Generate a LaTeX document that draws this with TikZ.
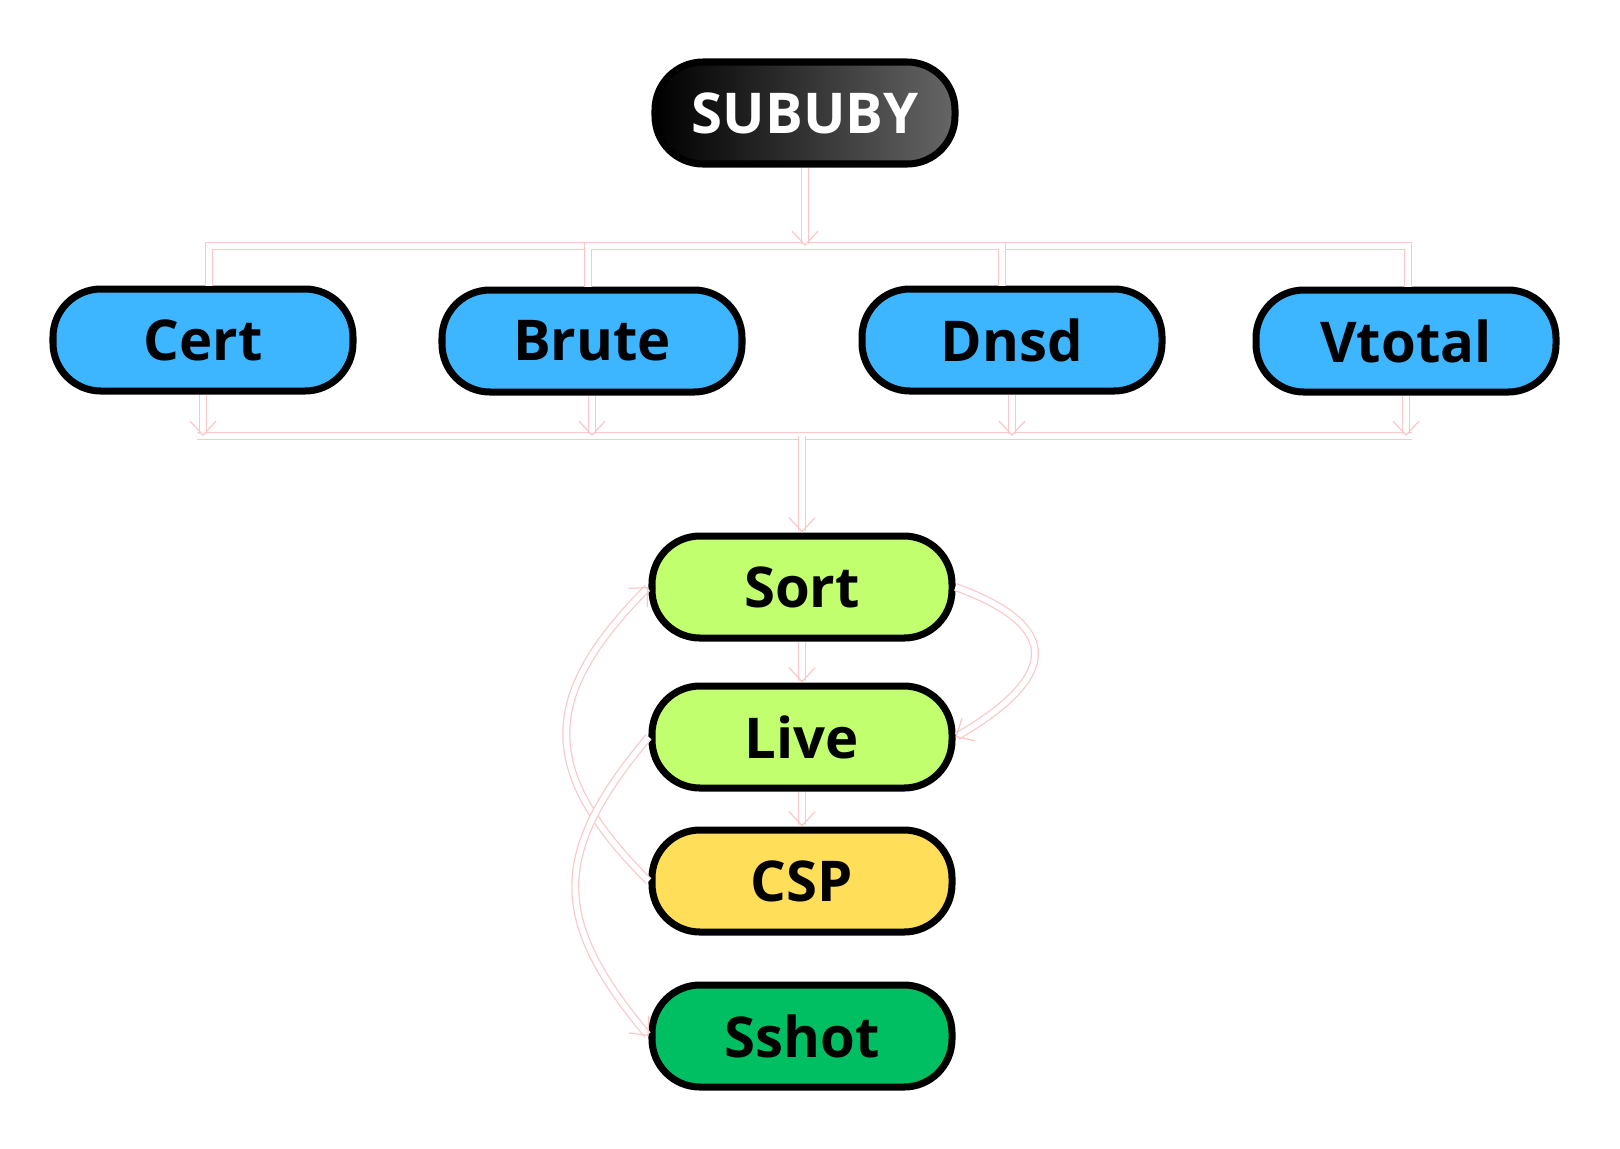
\documentclass[tikz,border=0pt]{standalone}
\usepackage{fontspec}
\setmainfont{Open Sans}
\usepackage{tikz}
\usetikzlibrary{arrows.meta, positioning, calc}

\definecolor{toolblue}{RGB}{61,181,255}
\definecolor{limegreen}{RGB}{194,255,110}
\definecolor{cspyellow}{RGB}{255,222,89}
\definecolor{shotgreen}{RGB}{0,191,99}
\definecolor{linkpink}{RGB}{250,200,200}

\begin{document}
\begin{tikzpicture}[
    box/.style={draw=black, line width=2pt, rounded corners=0.48cm,
      minimum width=3.0cm, minimum height=1.02cm,
      font=\fontsize{16}{19}\selectfont\bfseries},
    link/.style={draw=linkpink, line width=0.35pt, double=white, double distance=1.6pt},
    tip/.style={-{Straight Barb[length=1.4mm, width=2.6mm]}}
  ]
  \useasboundingbox (0,0) rectangle (16.2,-11.48);

  % Racine
  \node[box, left color=black, right color=black!60, text=white] (sububy) at (8.05,-1.13) {SUBUBY};

  % Outils de collecte
  \node[box, fill=toolblue] (cert)   at (2.03,-3.40) {Cert};
  \node[box, fill=toolblue] (brute)  at (5.92,-3.41) {Brute};
  \node[box, fill=toolblue] (dnsd)   at (10.12,-3.40) {Dnsd};
  \node[box, fill=toolblue] (vtotal) at (14.06,-3.41) {Vtotal};

  % Traitement
  \node[box, fill=limegreen] (sort)  at (8.02,-5.87) {Sort};
  \node[box, fill=limegreen] (live)  at (8.02,-7.37) {Live};
  \node[box, fill=cspyellow] (csp)   at (8.02,-8.81) {CSP};
  \node[box, fill=shotgreen] (sshot) at (8.02,-10.36) {Sshot};

  % Bus du haut
  \coordinate (topbus) at (8.05,-2.46);
  \draw[link] ($(cert.north)+(0.06,0)$) |- (topbus) -| ($(vtotal.north)+(0.02,0)$);
  \draw[link] ($(brute.north)+(-0.04,0)$) |- (topbus);
  \draw[link] ($(dnsd.north)+(-0.1,0)$) |- (topbus);
  \draw[link, tip] (sububy.south) -- (topbus);

  % Bus du bas
  \coordinate (botbus) at (8.02,-4.36);
  \draw[link] ($(cert.south |- botbus)+(-0.06,0)$) -- ($(vtotal.south |- botbus)+(0.06,0)$);
  \foreach \n in {cert, brute, dnsd, vtotal}
    \draw[link, tip] (\n.south) -- (\n.south |- botbus);
  \draw[link, tip] (botbus) -- (sort.north);

  % Chaine verticale
  \draw[link, tip] (sort) -- (live);
  \draw[link, tip] (live) -- (csp);

  % Boucles
  \draw[link, tip] (sort.east) to[out=-20, in=30, looseness=2] (live.east);
  \draw[link, tip] (csp.west) to[out=135, in=-135, looseness=1.35] (sort.west);
  \draw[link, tip] (live.west) to[out=-130, in=130, looseness=1.3] (sshot.west);
\end{tikzpicture}
\end{document}
